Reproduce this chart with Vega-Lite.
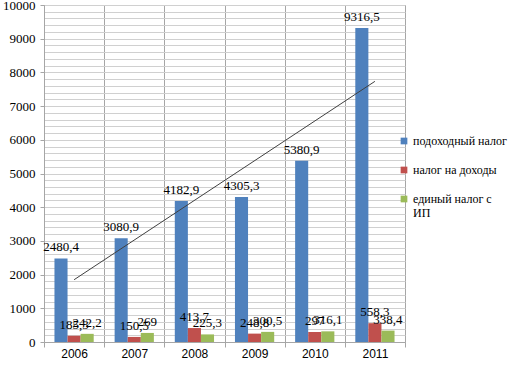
{
  "$schema": "https://vega.github.io/schema/vega-lite/v6.json",
  "width": 361,
  "height": 337,
  "autosize": "none",
  "padding": {"left": 44, "top": 5, "right": 115, "bottom": 23},
  "background": "white",
  "config": {
    "font": "Liberation Serif",
    "view": {"stroke": "#a6a6a6", "strokeWidth": 1},
    "locale": {"number": {"decimal": ",", "thousands": "", "grouping": [3], "currency": ["", ""]}}
  },
  "datasets": {
    "bars": [
      {"year": "2006", "series": "подоходный налог", "value": 2480.4},
      {"year": "2006", "series": "налог на доходы", "value": 185.3},
      {"year": "2006", "series": "единый налог с ИП", "value": 242.2},
      {"year": "2007", "series": "подоходный налог", "value": 3080.9},
      {"year": "2007", "series": "налог на доходы", "value": 150.5},
      {"year": "2007", "series": "единый налог с ИП", "value": 269},
      {"year": "2008", "series": "подоходный налог", "value": 4182.9},
      {"year": "2008", "series": "налог на доходы", "value": 413.7},
      {"year": "2008", "series": "единый налог с ИП", "value": 225.3},
      {"year": "2009", "series": "подоходный налог", "value": 4305.3},
      {"year": "2009", "series": "налог на доходы", "value": 248.8},
      {"year": "2009", "series": "единый налог с ИП", "value": 300.5},
      {"year": "2010", "series": "подоходный налог", "value": 5380.9},
      {"year": "2010", "series": "налог на доходы", "value": 297},
      {"year": "2010", "series": "единый налог с ИП", "value": 316.1},
      {"year": "2011", "series": "подоходный налог", "value": 9316.5},
      {"year": "2011", "series": "налог на доходы", "value": 558.3},
      {"year": "2011", "series": "единый налог с ИП", "value": 338.4}
    ],
    "trend": [
      {"year": "2006", "value": 1848.1},
      {"year": "2011", "value": 7734.2}
    ]
  },
  "encoding": {
    "x": {
      "field": "year", "type": "nominal", "title": null,
      "scale": {"paddingInner": 0, "paddingOuter": 0},
      "axis": {
        "tickBand": "extent", "grid": true, "gridColor": "#a6a6a6", "gridWidth": 1,
        "domainColor": "#a6a6a6", "tickColor": "#a6a6a6", "tickSize": 5,
        "labelAngle": 0, "labelFont": "Liberation Sans", "labelFontSize": 12,
        "labelColor": "#000000", "labelPadding": 1
      }
    },
    "y": {
      "field": "value", "type": "quantitative", "title": null,
      "scale": {"domain": [0, 10000], "nice": false},
      "axis": {
        "values": [0,200,400,600,800,1000,1200,1400,1600,1800,2000,2200,2400,2600,2800,3000,3200,3400,3600,3800,4000,4200,4400,4600,4800,5000,5200,5400,5600,5800,6000,6200,6400,6600,6800,7000,7200,7400,7600,7800,8000,8200,8400,8600,8800,9000,9200,9400,9600,9800,10000],
        "labelExpr": "datum.value % 1000 == 0 ? '' + datum.value : ''",
        "labelOverlap": false,
        "grid": true, "gridColor": "#d0d0d0", "gridWidth": 1,
        "ticks": true, "tickSize": 4, "tickColor": "#a6a6a6",
        "tickOpacity": {"condition": {"test": "datum.value % 1000 == 0", "value": 1}, "value": 0},
        "domainColor": "#a6a6a6",
        "labelFont": "Liberation Serif", "labelFontSize": 13, "labelColor": "#000000",
        "labelPadding": 5
      }
    }
  },
  "layer": [
    {
      "data": {"name": "bars"},
      "mark": {"type": "bar"},
      "encoding": {
        "xOffset": {
          "field": "series", "type": "nominal",
          "sort": ["подоходный налог", "налог на доходы", "единый налог с ИП"],
          "scale": {"paddingInner": 0, "paddingOuter": 0.8}
        },
        "color": {
          "field": "series", "type": "nominal",
          "scale": {
            "domain": ["подоходный налог", "налог на доходы", "единый налог с ИП"],
            "range": ["#4F81BD", "#C0504D", "#9BBB59"]
          },
          "legend": {
            "title": null, "orient": "none", "legendX": 354, "legendY": 130,
            "symbolType": "square", "symbolSize": 45, "symbolStrokeWidth": 0,
            "labelFont": "Liberation Serif", "labelFontSize": 12, "labelColor": "#000000",
            "labelOffset": 3, "rowPadding": 17, "labelLimit": 200,
            "labelExpr": "datum.label == 'единый налог с ИП' ? ['единый налог с', 'ИП'] : datum.label"
          }
        }
      }
    },
    {
      "data": {"name": "bars"},
      "mark": {"type": "text", "baseline": "bottom", "dy": -4, "font": "Liberation Serif", "fontSize": 13, "color": "#000000"},
      "encoding": {
        "xOffset": {"field": "series", "type": "nominal", "sort": ["подоходный налог", "налог на доходы", "единый налог с ИП"]},
        "text": {"field": "value", "type": "quantitative", "format": "~f"}
      }
    },
    {
      "data": {"name": "trend"},
      "mark": {"type": "line", "color": "#404040", "strokeWidth": 1},
      "encoding": {}
    }
  ]
}
